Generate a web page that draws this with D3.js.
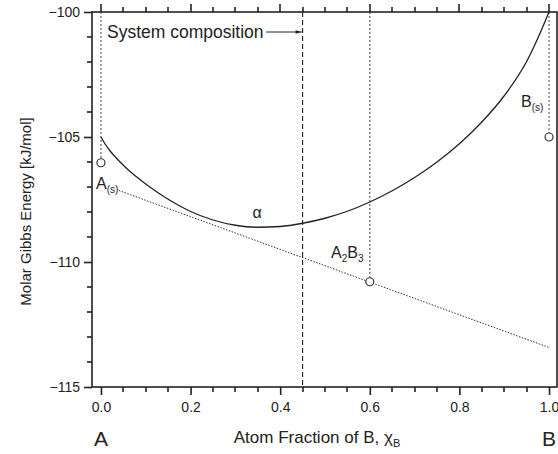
<!DOCTYPE html>
<html lang="en">
<head>
  <meta charset="UTF-8">
  <title>Gibbs energy</title>
  <style>
    body { margin: 0; background: #fff; }
    text { font-family: "Liberation Sans", Arial, sans-serif; fill: #222; }
  </style>
</head>
<body>
  <svg id="svg" width="558" height="454"></svg>

  <script src="https://d3js.org/d3.v7.min.js"></script>
  <script>
    // alpha phase free energy curve
    const alphaX = [0, 0.01, 0.02, 0.04, 0.06, 0.08, 0.1, 0.125, 0.15, 0.175, 0.2, 0.25, 0.3, 0.35, 0.4, 0.45,
      0.5, 0.55, 0.6, 0.65, 0.7, 0.75, 0.8, 0.85, 0.9, 0.95, 0.975, 1.0]
    const alphaY = [-105, -105.3, -105.55, -105.95, -106.3, -106.6, -106.88, -107.2, -107.49, -107.75, -107.98,
      -108.32, -108.53, -108.61, -108.58, -108.45, -108.25, -107.97, -107.6, -107.15, -106.62, -106.0, -105.27,
      -104.4, -103.35, -101.98, -101.05, -100]

    // common tangent through A(s) and A2B3
    const tangentX = [0.04, 1.0]
    const tangentY = [-107.14, -113.42]

    // stoichiometric phases
    const phaseNames = ["A(s)", "A2B3", "B(s)"]
    const phaseX = [0, 0.6, 1.0]
    const phaseY = [-106.03, -110.79, -105]

    const systemX = 0.45

    const xMajor = [0, 0.2, 0.4, 0.6, 0.8, 1.0]
    const xMinor = [0.05, 0.1, 0.15, 0.25, 0.3, 0.35, 0.45, 0.5, 0.55, 0.65, 0.7, 0.75, 0.85, 0.9, 0.95]
    const yMajor = [-100, -105, -110, -115]
    const yMinor = [-114, -113, -112, -111, -109, -108, -107, -106, -104, -103, -102, -101]

    const svg = d3.select("#svg")

    const x = d3.scaleLinear().domain([-0.02, 1.02]).range([92, 558])
    const y = d3.scaleLinear().domain([-115, -100]).range([387, 12])

    const x0 = x(-0.02), yTop = y(-100), yBot = y(-115)
    const px = v => Math.round(v)

    // frame
    svg.append("rect")
      .attr("x", px(x0)).attr("y", px(yTop))
      .attr("width", 465).attr("height", yBot - yTop)
      .attr("fill", "none").attr("stroke", "#222").attr("stroke-width", 1.6)

    // labelled axes
    svg.append("g").attr("transform", `translate(0,${yBot})`)
      .call(d3.axisBottom(x).tickValues(xMajor).tickSize(8).tickPadding(7).tickFormat(d3.format(".1f")))
    svg.append("g").attr("transform", `translate(${x0},0)`)
      .call(d3.axisLeft(y).tickValues(yMajor).tickSize(8).tickPadding(4).tickFormat(d3.format("d")))

    svg.selectAll(".domain").remove()
    svg.selectAll(".tick line").attr("stroke", "#222").attr("stroke-width", 1.6)
    svg.selectAll(".tick text")
      .style("font-family", "'Liberation Sans', Arial, sans-serif")
      .style("font-size", "14px").attr("fill", "#222")

    // minor ticks and top ticks
    const tickG = svg.append("g").attr("class", "extra-ticks")
    function tickPath(d) {
      tickG.append("path").attr("d", d)
        .attr("fill", "none").attr("stroke", "#222").attr("stroke-width", 1.6)
    }
    xMinor.forEach(d => {
      tickPath(`M${px(x(d))},${yBot}V${yBot + 5}`)
      tickPath(`M${px(x(d))},${yTop}V${yTop - 5}`)
    })
    xMajor.forEach(d => tickPath(`M${px(x(d))},${yTop}V${yTop - 8}`))
    yMinor.forEach(d => tickPath(`M${x0},${px(y(d))}H${x0 - 5}`))

    // vertical guide lines
    phaseX.forEach((p, i) => {
      svg.append("line")
        .attr("x1", x(p)).attr("x2", x(p))
        .attr("y1", yTop).attr("y2", y(phaseY[i]) - 4)
        .attr("stroke", "#444").attr("stroke-width", 1).attr("stroke-dasharray", "2,2")
    })

    svg.append("line")
      .attr("x1", x(systemX)).attr("x2", x(systemX))
      .attr("y1", yTop).attr("y2", yBot)
      .attr("stroke", "#222").attr("stroke-width", 1.1).attr("stroke-dasharray", "5,3")

    // tangent
    svg.append("line")
      .attr("x1", x(tangentX[0])).attr("y1", y(tangentY[0]))
      .attr("x2", x(tangentX[1])).attr("y2", y(tangentY[1]))
      .attr("stroke", "#333").attr("stroke-width", 1).attr("stroke-dasharray", "1.5,1.5")

    // alpha curve
    const line = d3.line()
      .x((d, i) => x(alphaX[i]))
      .y(d => y(d))
      .curve(d3.curveMonotoneX)

    svg.append("path")
      .attr("d", line(alphaY))
      .attr("fill", "none").attr("stroke", "#222").attr("stroke-width", 1.3)

    // phase points
    svg.selectAll("circle.phase")
      .data(phaseX)
      .enter()
      .append("circle")
      .attr("class", "phase")
      .attr("cx", d => x(d))
      .attr("cy", (d, i) => y(phaseY[i]))
      .attr("r", 4)
      .attr("fill", "#fff").attr("stroke", "#333").attr("stroke-width", 1.2)

    // labels
    const aLab = svg.append("text").attr("x", 96).attr("y", 189).style("font-size", "16px")
    aLab.append("tspan").text("A")
    aLab.append("tspan").attr("dy", 4).style("font-size", "10px").text("(s)")

    const abLab = svg.append("text").attr("x", 331).attr("y", 258).style("font-size", "16px")
    abLab.append("tspan").text("A")
    abLab.append("tspan").attr("dy", 4).style("font-size", "10px").text("2")
    abLab.append("tspan").attr("dy", -4).text("B")
    abLab.append("tspan").attr("dy", 4).style("font-size", "10px").text("3")

    const bLab = svg.append("text").attr("x", 521).attr("y", 107).style("font-size", "16px")
    bLab.append("tspan").text("B")
    bLab.append("tspan").attr("dy", 4).style("font-size", "10px").text("(s)")

    svg.append("text").attr("x", 257).attr("y", 218)
      .attr("text-anchor", "middle").style("font-size", "16px").text("α")

    svg.append("text").attr("x", 107).attr("y", 38)
      .style("font-size", "17.5px").text("System composition")

    svg.append("defs").append("marker")
      .attr("id", "arrow").attr("viewBox", "0 0 10 10")
      .attr("refX", 10).attr("refY", 5)
      .attr("markerWidth", 10).attr("markerHeight", 6)
      .attr("orient", "auto")
      .append("path").attr("d", "M0,2 L10,5 L0,8 Z").attr("fill", "#222")

    svg.append("line")
      .attr("x1", 266).attr("x2", x(systemX) - 1)
      .attr("y1", 32).attr("y2", 32)
      .attr("stroke", "#222").attr("stroke-width", 1)
      .attr("marker-end", "url(#arrow)")

    // axis titles
    svg.append("text")
      .attr("transform", `translate(31,${(yTop + yBot) / 2 + 12}) rotate(-90)`)
      .attr("text-anchor", "middle").style("font-size", "15px")
      .text("Molar Gibbs Energy [kJ/mol]")

    const xt = svg.append("text").attr("x", 317).attr("y", 443)
      .attr("text-anchor", "middle").style("font-size", "17px")
    xt.append("tspan").text("Atom Fraction of B, χ")
    xt.append("tspan").attr("dy", 4).style("font-size", "11px").text("B")

    svg.append("text").attr("x", x(0)).attr("y", 446)
      .attr("text-anchor", "middle").style("font-size", "21px").text("A")
    svg.append("text").attr("x", x(1)).attr("y", 446)
      .attr("text-anchor", "middle").style("font-size", "21px").text("B")
  </script>
</body>
</html>
